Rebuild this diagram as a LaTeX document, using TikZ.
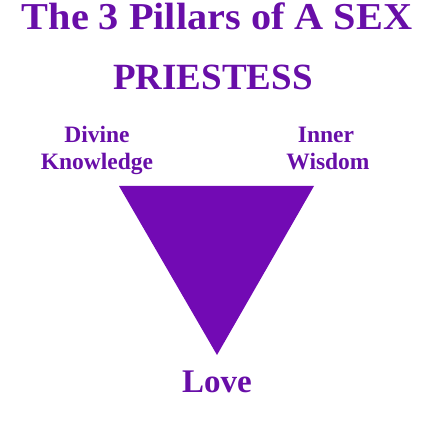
\documentclass[tikz,border=0pt]{standalone}
\usepackage{fontspec}
\setmainfont{Liberation Serif}
\definecolor{ttl}{RGB}{104,14,168}
\definecolor{tri}{RGB}{114,10,180}
\tikzset{
  lbl/.style={text=ttl, font=\bfseries, inner sep=0pt, align=center},
}
\begin{document}
\begin{tikzpicture}[x=1pt,y=-1pt]
\useasboundingbox (0,0) rectangle (434,422);
\node[lbl, font=\bfseries\fontsize{38}{40}\selectfont, anchor=base, xscale=1.06] (t1) at (217,30) {The 3 Pillars of A SEX};
\node[lbl, font=\bfseries\fontsize{37}{40}\selectfont, anchor=base] (t2) at (213,90) {PRIESTESS};
\node[lbl, font=\bfseries\fontsize{23.5}{26}\selectfont, anchor=base] (d1) at (97,143) {Divine};
\node[lbl, font=\bfseries\fontsize{23.5}{26}\selectfont, anchor=base] (d2) at (97,170) {Knowledge};
\node[lbl, font=\bfseries\fontsize{23.5}{26}\selectfont, anchor=base] (w1) at (326,143) {Inner};
\node[lbl, font=\bfseries\fontsize{23.5}{26}\selectfont, anchor=base] (w2) at (328,170) {Wisdom};
\node[lbl, font=\bfseries\fontsize{33}{36}\selectfont, anchor=base] (love) at (217,392) {Love};
\coordinate (a) at (119,186);
\coordinate (b) at (314,186);
\coordinate (c) at (217,355);
\fill[tri] (a) -- (b) -- (c) -- cycle;
\end{tikzpicture}
\end{document}
